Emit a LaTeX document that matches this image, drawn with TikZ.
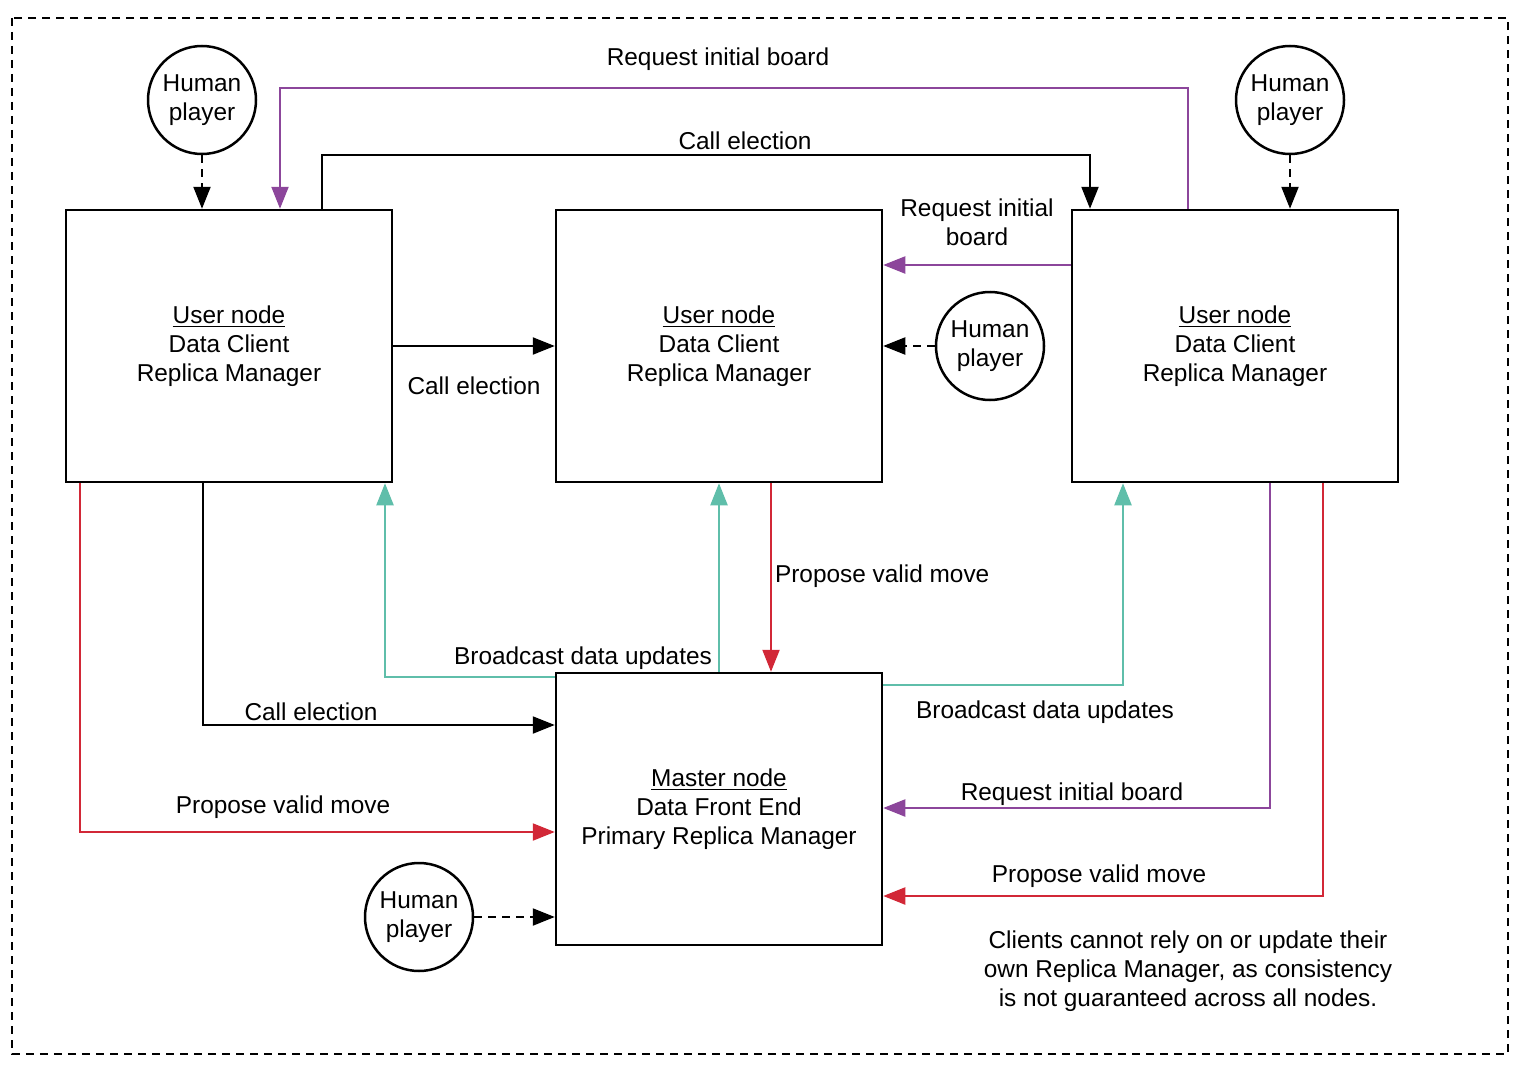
\documentclass[tikz,border=0pt]{standalone}
\usepackage{fontspec}
\setmainfont{Liberation Sans}
\usetikzlibrary{arrows.meta}

\definecolor{reqPurple}{RGB}{140,70,155}
\definecolor{castTeal}{RGB}{95,190,170}
\definecolor{moveRed}{RGB}{210,40,55}

\begin{document}
\begin{tikzpicture}[x=0.5pt,y=-0.5pt,
        every node/.style={font=\fontsize{12.2}{14.6}\selectfont},
        nodeBox/.style={draw,line width=1.25pt,minimum width=163pt,minimum height=136pt,align=center},
        playerCircle/.style={draw,circle,line width=1.25pt,minimum size=54pt,inner sep=0pt,align=center},
        link/.style={line width=1.1pt,-{Triangle[length=11pt,width=8.5pt]}},
        inputLink/.style={link,dash pattern=on 4pt off 3pt},
        reqLink/.style={link,reqPurple},
        castLink/.style={link,castTeal},
        moveLink/.style={link,moveRed}]
    \useasboundingbox (0,0) rectangle (1526,1070);
    \draw[line width=1pt,dash pattern=on 4pt off 3pt] (12,18) rectangle (1508,1054); % outer frame

    % Define the macro.
    % 1st argument: name of the node.
    % 2nd argument: position of the circle.
    \newcommand{\humanPlayer}[2]{
        \node[playerCircle] (#1) at (#2) {Human\\player};
    }

    % USER NODES
    \node[nodeBox] (leftUser)  at (229,346)  {\underline{User node}\\Data Client\\Replica Manager};
    \node[nodeBox] (midUser)   at (719,346)  {\underline{User node}\\Data Client\\Replica Manager};
    \node[nodeBox] (rightUser) at (1235,346) {\underline{User node}\\Data Client\\Replica Manager};

    % MASTER NODE
    \node[nodeBox] (master) at (719,809) {\underline{Master node}\\Data Front End\\Primary Replica Manager};

    % HUMAN PLAYERS
    \humanPlayer{leftPlayer}{202,100}
    \humanPlayer{rightPlayer}{1290,100}
    \humanPlayer{midPlayer}{990,346}
    \humanPlayer{masterPlayer}{419,917}

    \draw[inputLink] (leftPlayer) -- (leftUser.north -| leftPlayer);
    \draw[inputLink] (rightPlayer) -- (rightUser.north -| rightPlayer);
    \draw[inputLink] (midPlayer) -- (midUser.east |- midPlayer);
    \draw[inputLink] (masterPlayer) -- (master.west |- masterPlayer);

    % TOP LINKS
    \draw[reqLink] (rightUser.north -| 1188,0) -- (1188,88) -| (leftUser.north -| 280,0);
    \node (reqTopLabel) at (718,59) {Request initial board};
    \draw[link] (leftUser.north -| 322,0) -- (322,155) -| (rightUser.north -| 1090,0);
    \node (callTopLabel) at (745,141) {Call election};

    % BETWEEN USER NODES
    \draw[reqLink] (rightUser.west |- 0,265) -- (midUser.east |- 0,265);
    \node[align=center] (reqMidLabel) at (977,222) {Request initial\\board};
    \draw[link] (leftUser) -- (midUser);
    \node (callMidLabel) at (474,386) {Call election};

    % MASTER TO USER NODES
    \draw[castLink] (master.west |- 0,677) -| (leftUser.south -| 385,0);
    \draw[castLink] (master) -- (midUser);
    \node (castLeftLabel) at (583,658) {Broadcast data updates};
    \draw[castLink] (master.east |- 0,685) -| (rightUser.south -| 1123,0);
    \node (castRightLabel) at (1045,712) {Broadcast data updates};

    % USER NODES TO MASTER
    \draw[moveLink] (midUser.south -| 771,0) -- (master.north -| 771,0);
    \node[anchor=west] (moveMidLabel) at (768,576) {Propose valid move};
    \draw[link] (leftUser.south -| 203,0) |- (master.west |- 0,725);
    \node (callLowLabel) at (311,712) {Call election};
    \draw[moveLink] (leftUser.south -| 80,0) |- (master.west |- 0,832);
    \node (moveLeftLabel) at (283,807) {Propose valid move};
    \draw[reqLink] (rightUser.south -| 1270,0) |- (master.east |- 0,808);
    \node (reqLowLabel) at (1072,794) {Request initial board};
    \draw[moveLink] (rightUser.south -| 1323,0) |- (master.east |- 0,896);
    \node (moveRightLabel) at (1099,876) {Propose valid move};

    % NOTE
    \node[align=center] (note) at (1188,971) {Clients cannot rely on or update their\\own Replica Manager, as consistency\\is not guaranteed across all nodes.};
\end{tikzpicture}
\end{document}
